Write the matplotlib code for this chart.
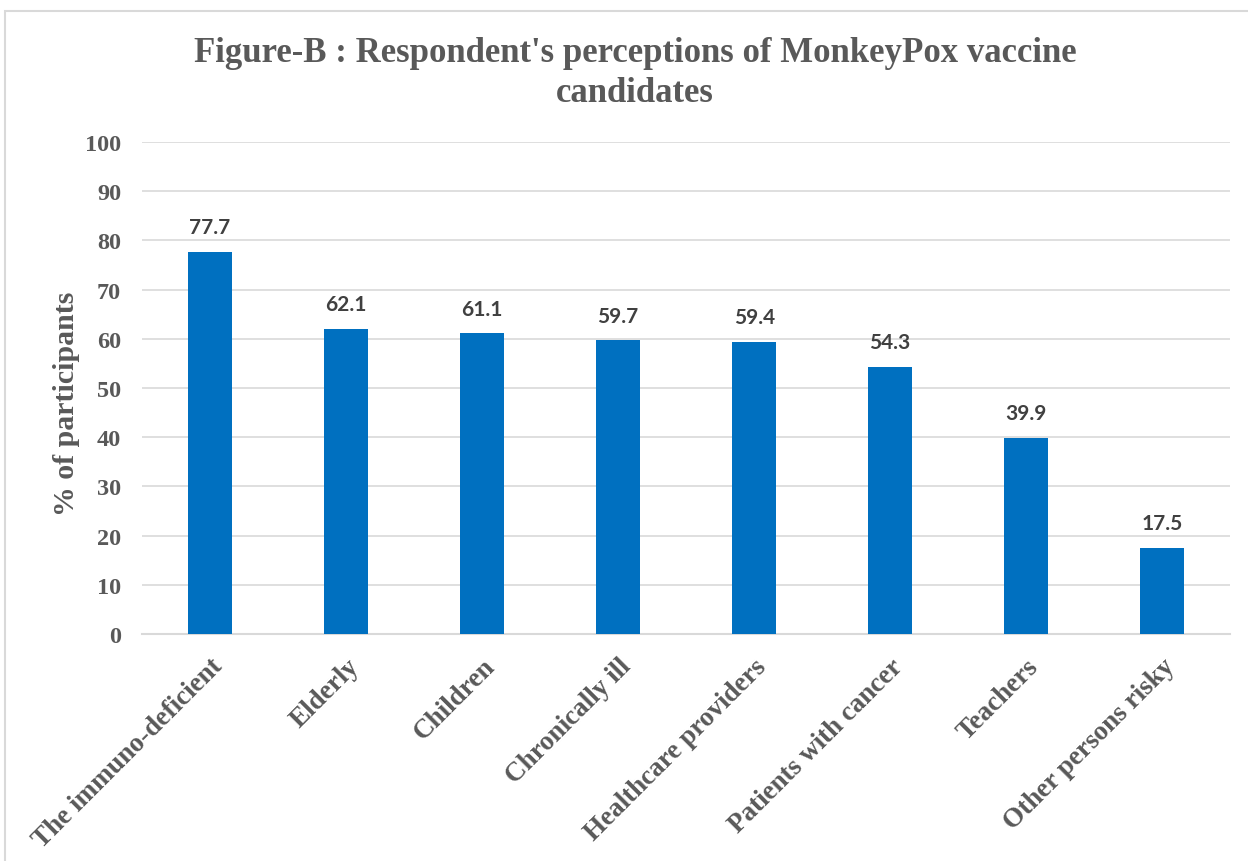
import matplotlib
matplotlib.use("Agg")
from matplotlib import pyplot as plt
from matplotlib.patches import Rectangle

categories = ["The immuno-deficient", "Elderly", "Children", "Chronically ill",
              "Healthcare providers", "Patients with cancer", "Teachers",
              "Other persons risky"]
values = [77.7, 62.1, 61.1, 59.7, 59.4, 54.3, 39.9, 17.5]
yticks = [0, 10, 20, 30, 40, 50, 60, 70, 80, 90, 100]

BLUE = "#0070C0"
GREY = "#595959"
GRID = "#D9D9D9"
SERIF = ["Liberation Serif", "DejaVu Serif"]


def main():
    fig = plt.figure(figsize=(12.48, 8.62), dpi=100)
    ax = fig.add_axes([0.1138, 0.2633, 0.872, 0.5707])

    # chart area border (cropped on right and bottom)
    fig.patches.append(Rectangle((5 / 1248, -0.1), 1.2, 1 - 12 / 862 + 0.1,
                                 transform=fig.transFigure, fill=False,
                                 edgecolor=GRID, linewidth=1.5))

    x = range(len(categories))
    ax.bar(x, values, width=0.32, color=BLUE, zorder=3)
    for i, v in enumerate(values):
        ax.text(i, v + 3.0, f"{v}", ha="center", va="bottom",
                fontsize=15, fontweight="bold", color="#404040",
                family=["Lato", "DejaVu Sans"])

    ax.set_xlim(-0.5, len(categories) - 0.5)
    ax.set_ylim(0, 100)
    ax.set_yticks(yticks)
    ax.set_yticklabels([str(t) for t in yticks], fontsize=17.5, fontweight="bold",
                       color=GREY, family=SERIF)
    ax.set_xticks(list(x))
    ax.set_xticklabels(categories, rotation=45, ha="right", rotation_mode="anchor",
                       fontsize=19.5, fontweight="bold", color=GREY, family=SERIF)
    ax.tick_params(axis="both", length=0)
    ax.tick_params(axis="y", pad=15)
    ax.tick_params(axis="x", pad=14)
    ax.grid(axis="y", color=GRID, linewidth=1.2, zorder=0)
    for s in ["top", "right", "left"]:
        ax.spines[s].set_visible(False)
    ax.spines["bottom"].set_color(GRID)
    ax.spines["bottom"].set_linewidth(1.5)

    ax.set_ylabel("% of participants", fontsize=21.5, fontweight="bold",
                  color=GREY, family=SERIF)
    ax.yaxis.set_label_coords(-0.057, 0.47)

    fig.text(0.509, 0.915, "Figure-B : Respondent's perceptions of MonkeyPox vaccine\ncandidates",
             ha="center", va="center", fontsize=25, fontweight="bold",
             color=GREY, family=SERIF, linespacing=1.3)

    fig.savefig("out.png", dpi=100)


if __name__ == "__main__":
    main()
